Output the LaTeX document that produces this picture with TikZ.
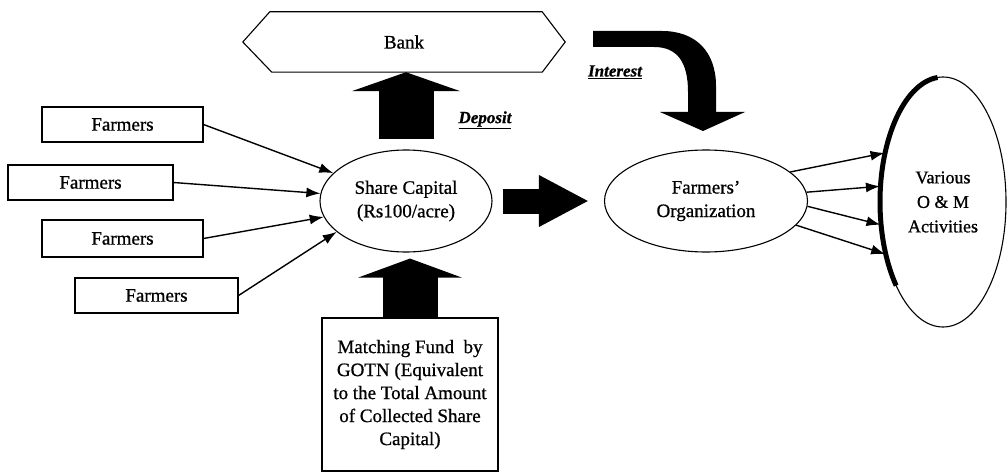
\documentclass[tikz,border=0pt]{standalone}
\usepackage{fontspec}
\setmainfont{Liberation Serif}[FakeBold=0.8]
\usetikzlibrary{shapes.geometric,arrows.meta,calc}
\begin{document}
\begin{tikzpicture}[x=1pt,y=-1pt,
  every node/.style={font=\fontsize{19}{23.5}\selectfont, align=center, inner sep=0pt},
  fbox/.style={draw, line width=1.1pt, minimum height=35pt},
  ell/.style={draw, ellipse, line width=1.1pt},
  feed/.style={line width=1.4pt, -{Latex[length=14pt,width=10pt]}},
  lbl/.style={font=\fontsize{17}{20}\selectfont\bfseries\itshape},
]
\useasboundingbox (0,0) rectangle (1008,473);

% Bank (hexagon)
\node[minimum width=322pt, minimum height=60pt] (bank) at (404,42) {Bank};
\draw[line width=1.1pt] (bank.west) -- ($(bank.north west)+(27,0)$) -- ($(bank.north east)+(-23,0)$)
  -- (bank.east) -- ($(bank.south east)+(-23,0)$) -- ($(bank.south west)+(29,0)$) -- cycle;

% Farmers boxes
\node[fbox, minimum width=161pt] (f1) at (122.5,124.5) {Farmers};
\node[fbox, minimum width=165pt] (f2) at (90.5,182.5) {Farmers};
\node[fbox, minimum width=161pt, minimum height=37pt] (f3) at (122.5,238.5) {Farmers};
\node[fbox, minimum width=163pt] (f4) at (156.5,295.5) {Farmers};

% Ellipses
\node[ell, minimum width=172pt, minimum height=102pt] (sc) at (406,201) {Share Capital\\(Rs100/acre)};
\node[ell, minimum width=203pt, minimum height=102pt] (fo) at (706,201) {Farmers'\\Organization};
\node[ell, minimum width=126pt, minimum height=250pt, font=\fontsize{18}{24.5}\selectfont] (oam) at (943,202) {Various\\O \& M\\Activities};
\draw[line width=5pt] ($(oam.center)+({63*cos(-95)},{125*sin(-95)})$)
  arc[start angle=-95, end angle=-222, x radius=63, y radius=125];

% Matching fund box
\node[draw, line width=1.1pt, minimum width=176pt, minimum height=153pt, font=\fontsize{19}{23}\selectfont] (mf) at (410,394.5)
  {Matching Fund~ by\\GOTN (Equivalent\\to the Total Amount\\of Collected Share\\Capital)};

% Farmers -> Share Capital
\draw[feed] (f1.east) -- (sc.159);
\draw[feed] (f2.east) -- (sc.175);
\draw[feed] (f3.east) -- (sc.191);
\draw[feed] (f4.east) -- (sc.204);

% Farmers' Organization -> Activities
\draw[feed] (fo.19) -- (oam.140);
\draw[feed] (fo.5) -- (oam.166);
\draw[feed] (fo.-3) -- (oam.200);
\draw[feed] (fo.-15) -- (oam.222);

% Block arrows
\draw[line width=55pt, -{Triangle[length=19pt,width=108pt]}, shorten <=10pt] (sc.north) -- (sc.north |- bank.south);
\draw[line width=25pt, -{Triangle[length=50pt,width=48pt]}, shorten <=10pt, shorten >=15pt] (sc.east) -- (fo.west);
\draw[line width=55pt, -{Triangle[length=19pt,width=103pt]}, shorten >=6pt] (mf.north) -- (mf.north |- sc.south);

% Interest curved arrow
\fill (593,31) -- (662,31) .. controls (696,31) and (716,52) .. (716,86) -- (716,112) -- (745,112)
  -- (703,131) -- (660,112) -- (688,112) -- (688,92) .. controls (688,63) and (678,47) .. (654,47)
  -- (593,47) -- cycle;

% Labels
\node[lbl] (dep) at (485,120) {\underline{Deposit}};
\node[lbl] (int) at (615,72) {\underline{Interest}};
\end{tikzpicture}
\end{document}
